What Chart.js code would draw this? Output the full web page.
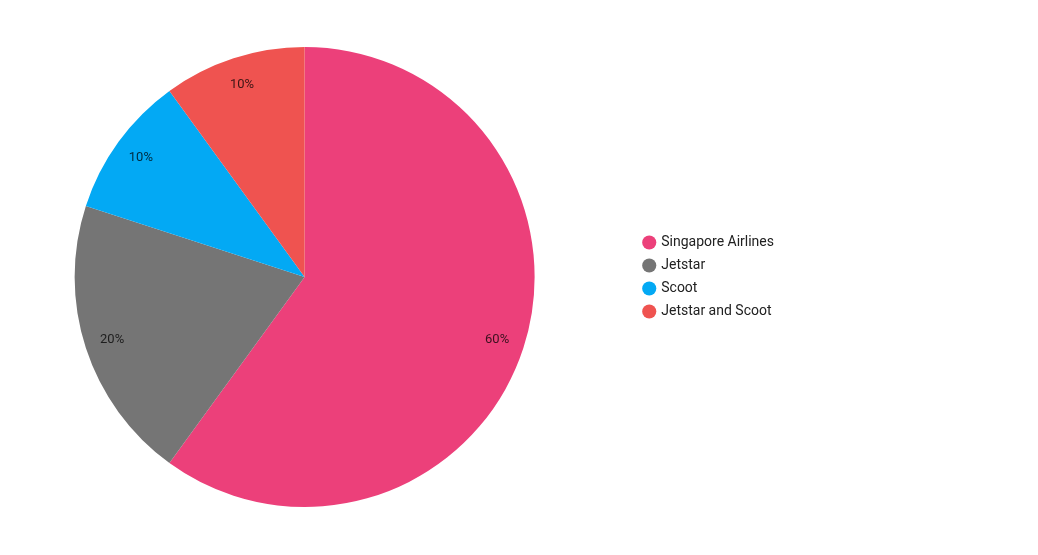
<!DOCTYPE html>
<html>
<head>
<meta charset="utf-8">
<script src="https://cdn.jsdelivr.net/npm/chart.js@4/dist/chart.umd.min.js"></script>
<style>
  html, body { margin: 0; padding: 0; background: #fff; overflow: hidden; }
  body { width: 1038px; height: 555px; position: relative; }
  #wrap { position: absolute; left: -26px; top: 0; }
</style>
</head>
<body>
<div id="wrap"><canvas id="pie" width="810" height="555"></canvas></div>
<script>
  const labels = ['Singapore Airlines', 'Jetstar', 'Scoot', 'Jetstar and Scoot'];
  const shares = [60, 20, 10, 10];
  const colors = ['#EC407A', '#757575', '#03A9F4', '#EF5350'];

  // percent labels placed near the outer edge of each slice
  const sliceLabels = {
    id: 'sliceLabels',
    afterDatasetsDraw(chart) {
      const meta = chart.getDatasetMeta(0);
      const total = shares.reduce((a, b) => a + b, 0);
      const c = chart.ctx;
      c.save();
      c.font = '13px Roboto';
      c.fillStyle = 'rgba(0,0,0,0.75)';
      c.textAlign = 'center';
      c.textBaseline = 'middle';
      meta.data.forEach((arc, i) => {
        const p = arc.getProps(['x', 'y', 'startAngle', 'endAngle', 'outerRadius'], true);
        const a = (p.startAngle + p.endAngle) / 2;
        const r = p.outerRadius * 0.88;
        const pct = Math.round(shares[i] / total * 100) + '%';
        c.fillText(pct, p.x + Math.cos(a) * r, p.y + Math.sin(a) * r);
      });
      c.restore();
    }
  };

  new Chart(document.getElementById('pie'), {
    type: 'pie',
    data: {
      labels: labels,
      datasets: [{
        data: shares,
        backgroundColor: colors,
        borderWidth: 0
      }]
    },
    options: {
      responsive: false,
      animation: false,
      devicePixelRatio: 1,
      layout: { padding: { top: 47, bottom: 48, left: 0, right: 0 } },
      plugins: {
        tooltip: { enabled: false },
        legend: {
          position: 'right',
          labels: {
            usePointStyle: true,
            pointStyle: 'circle',
            boxWidth: 10,
            boxHeight: 10,
            padding: 9,
            color: '#212121',
            font: { family: 'Roboto', size: 14 }
          }
        }
      }
    },
    plugins: [sliceLabels]
  });
</script>
</body>
</html>
